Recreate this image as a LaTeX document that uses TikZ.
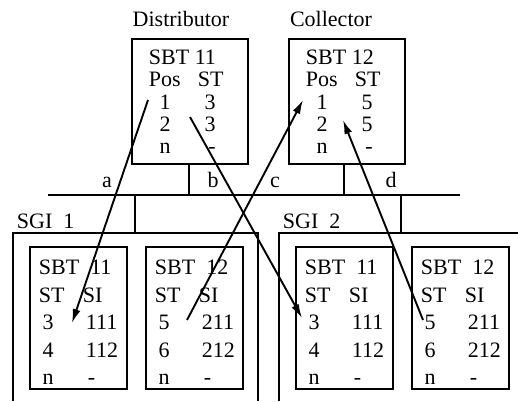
\documentclass[tikz,border=0pt]{standalone}
\usepackage{fontspec}
\setmainfont{Liberation Serif}
\usetikzlibrary{arrows.meta}

\begin{document}
\begin{tikzpicture}[
      x=1pt, y=-1pt,
      font=\fontsize{22}{26}\selectfont,
      line width=1.9pt,
      >={Latex[length=14pt, width=8pt]},
      tbl/.style={draw, minimum width=116pt, minimum height=125pt, inner sep=0pt},
      sbt/.style={draw, minimum width=97pt, minimum height=142pt, inner sep=0pt},
      lt/.style={anchor=base west, inner sep=0pt},
      ct/.style={anchor=base, inner sep=0pt}
    ]
    \useasboundingbox (0, 0) rectangle (518, 401);

    % Distributor and Collector tables
    \node [tbl] (dist) at (190, 101.5) {};
    \node [tbl] (coll) at (347, 101.5) {};
    \node [ct] (distlbl) at (181, 27) {Distributor};
    \node [ct] (colllbl) at (331, 27) {Collector};

    \foreach \L/\n/\id/\v in {132/d/11/3, 289/c/12/5} {
      \node [lt] (\n-sbt) at (\L+16, 65) {SBT \id};
      \node [lt] (\n-pos) at (\L+16, 87) {Pos};
      \node [lt] (\n-st)  at (\L+65, 87) {ST};
      \node [ct] (\n-p1)  at (\L+33, 109) {1};
      \node [ct] (\n-s1)  at (\L+78, 109) {\v};
      \node [ct] (\n-p2)  at (\L+33, 131) {2};
      \node [ct] (\n-s2)  at (\L+78, 131) {\v};
      \node [ct] (\n-pn)  at (\L+33, 153) {n};
      \node [ct] (\n-sn)  at (\L+80, 153) {-};
    }

    % bus
    \coordinate (busl) at (48, 195);
    \coordinate (busr) at (460, 195);
    \draw (busl) -- (busr);
    \draw (dist.south -| 189, 0) -- (189, 195);
    \draw (coll.south -| 344, 0) -- (344, 195);
    \draw (135, 195) -- (135, 233);
    \draw (401, 195) -- (401, 233);
    \node [ct] (la) at (107, 187) {a};
    \node [ct] (lb) at (213, 187) {b};
    \node [ct] (lc) at (275, 187) {c};
    \node [ct] (ld) at (391, 187) {d};

    % SGI frames
    \draw (13, 401) -- (13, 233) -- (258, 233) -- (258, 401);
    \draw (279, 401) -- (279, 233) -- (518, 233);
    \node [lt] (sgi1) at (16, 228) {SGI\ \ 1};
    \node [lt] (sgi2) at (282, 228) {SGI\ \ 2};

    % SBT tables in the SGIs
    \foreach \L/\n/\id/\a/\b/\c/\d in {30/s1a/11/3/111/4/112, 146/s1b/12/5/211/6/212,
                                       296/s2a/11/3/111/4/112, 412/s2b/12/5/211/6/212} {
      \node [sbt] (\n) at (\L+48.5, 318) {};
      \node [lt] (\n-sbt) at (\L+8, 274) {SBT\ \ \id};
      \node [lt] (\n-st)  at (\L+8, 302) {ST};
      \node [lt] (\n-si)  at (\L+52, 302) {SI};
      \node [ct] (\n-t1)  at (\L+18, 329) {\a};
      \node [lt] (\n-i1)  at (\L+55, 329) {\b};
      \node [ct] (\n-t2)  at (\L+18, 357) {\c};
      \node [lt] (\n-i2)  at (\L+55, 357) {\d};
      \node [ct] (\n-tn)  at (\L+18, 384) {n};
      \node [lt] (\n-in)  at (\L+57, 384) {-};
    }

    % routing arrows
    \coordinate (d1) at (148, 100);
    \coordinate (d2) at (190, 117);
    \coordinate (c1) at (303, 100);
    \coordinate (c2) at (343, 120);
    \coordinate (s1a3) at (72, 323);
    \coordinate (s2a3) at (302, 318);
    \coordinate (s1b5) at (187, 320);
    \coordinate (s2b5) at (423, 320);
    \draw [->] (d1) -- (s1a3);
    \draw [->] (d2) -- (s2a3);
    \draw [->] (s1b5) -- (c1);
    \draw [->] (s2b5) -- (c2);
  \end{tikzpicture}
\end{document}
